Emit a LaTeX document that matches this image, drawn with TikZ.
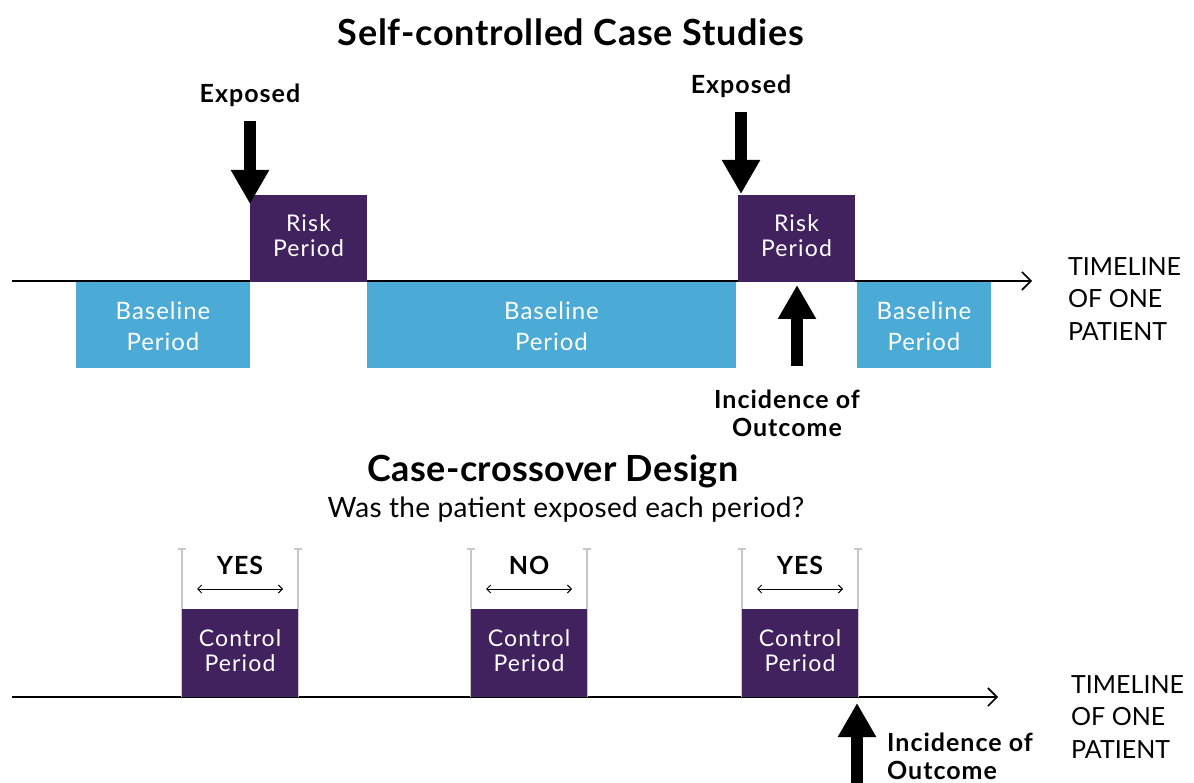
\documentclass[tikz,border=0pt]{standalone}
\usepackage{fontspec}
\setmainfont{Lato}
\usetikzlibrary{arrows.meta}
\definecolor{riskpurple}{HTML}{42215F}
\definecolor{baseblue}{HTML}{4BAAD6}
\definecolor{guidegray}{HTML}{C8C8C8}
% font helpers: size, leading, letter spacing
\newcommand{\boxfont}[3]{\fontsize{#1}{#2}\selectfont\addfontfeatures{LetterSpace=#3}}
\newcommand{\heavyfont}[3]{\fontsize{#1}{#2}\bfseries\selectfont\addfontfeatures{LetterSpace=#3}}
\tikzset{
  basebox/.style={fill=baseblue, inner sep=0pt, minimum height=86pt},
  purplebox/.style={fill=riskpurple, inner sep=0pt},
  basetext/.style={text=white, inner sep=0pt, align=center, font=\boxfont{24}{31}{4}},
  risktext/.style={text=white, inner sep=0pt, align=center, font=\boxfont{23}{25}{5}},
  boldlabel/.style={inner sep=0pt, align=center, font=\heavyfont{25}{28}{4}},
  timelabel/.style={inner sep=0pt, align=left, anchor=north west,
    font=\boxfont{25}{32.5}{0}},
  timeline/.style={line width=1.6pt, -{Straight Barb[length=9pt,width=18pt,line width=1.6pt]}},
  fatarrow/.style={line width=12pt, -{Triangle[width=36pt,length=34pt]}},
  guide/.style={draw=guidegray, line width=1.8pt},
  span/.style={line width=0.9pt, {Straight Barb[length=4pt,width=8pt]}-{Straight Barb[length=4pt,width=8pt]}}
}
\begin{document}
\begin{tikzpicture}[x=1pt,y=-1pt]
\useasboundingbox[fill=white] (0,0) rectangle (1194,783);

% ---------- Self-controlled case studies ----------
\node[inner sep=0pt, font=\heavyfont{36}{40}{2}] (title1) at (571,32) {Self-controlled Case Studies};

\coordinate (tl1start) at (12,281);
\coordinate (tl1end) at (1032,281);
\draw[timeline] (tl1start) -- (tl1end);

% baseline periods
\foreach \cx/\w/\name in {163/174/b1, 551.5/369/b2, 924/134/b3} {
  \node[basebox, minimum width=\w pt] (\name) at (\cx,325) {};
  \node[basetext] (\name txt) at ([yshift=-1.5pt]\name.center) {Baseline\\Period};
}
% risk periods
\foreach \cx/\name in {308.5/r1, 796.5/r2} {
  \node[purplebox, minimum width=117pt, minimum height=87pt] (\name) at (\cx,238.5) {};
  \node[risktext] (\name txt) at ([yshift=2.5pt]\name.center) {Risk\\Period};
}

\node[boldlabel] (ex1) at (250,95) {Exposed};
\node[boldlabel] (ex2) at (741,86) {Exposed};
\coordinate (ex1from) at (250,121);
\coordinate (ex1to) at (250,204);
\coordinate (ex2from) at (741,112);
\coordinate (ex2to) at (741,194);
\draw[fatarrow] (ex1from) -- (ex1to);
\draw[fatarrow] (ex2from) -- (ex2to);

\coordinate (inc1from) at (797,366);
\coordinate (inc1to) at (797,285);
\draw[fatarrow] (inc1from) -- (inc1to);
\node[boldlabel] (inc1) at (787,413) {Incidence of\\Outcome};

\node[timelabel] (tp1) at (1068,257) {TIMELINE\\OF ONE\\PATIENT};

% ---------- Case-crossover design ----------
\node[inner sep=0pt, font=\heavyfont{36}{40}{1}] (title2) at (553,471) {Case-crossover Design};
\node[inner sep=0pt, font=\boxfont{28}{32}{1}] (question) at (566,510) {Was the patient exposed each period?};

\coordinate (tl2start) at (12,697);
\coordinate (tl2end) at (998,697);
\draw[timeline] (tl2start) -- (tl2end);

\foreach \cx/\name/\ans in {240/c1/YES, 529/c2/NO, 800/c3/YES} {
  \coordinate (\name gl) at (\cx-58,549);
  \coordinate (\name gr) at (\cx+58,549);
  \draw[guide] (\name gl) -- ++(0,148);
  \draw[guide] (\name gr) -- ++(0,148);
  \draw[guide] ([xshift=-4pt]\name gl) -- ([xshift=4pt]\name gl);
  \draw[guide] ([xshift=-4pt]\name gr) -- ([xshift=4pt]\name gr);
  \node[purplebox, minimum width=116pt, minimum height=88pt] (\name) at (\cx,653) {};
  \node[risktext] (\name txt) at ([yshift=2.5pt]\name.center) {Control\\Period};
  \node[boldlabel] (\name ans) at (\cx,565) {\ans};
  \coordinate (\name sl) at (\cx-43,589);
  \coordinate (\name sr) at (\cx+43,589);
  \draw[span] (\name sl) -- (\name sr);
}

\coordinate (inc2from) at (857,783);
\coordinate (inc2to) at (857,703);
\draw[fatarrow] (inc2from) -- (inc2to);
\node[boldlabel, align=left, anchor=north west] (inc2) at (887,733) {Incidence of\\Outcome};

\node[timelabel] (tp2) at (1071,675) {TIMELINE\\OF ONE\\PATIENT};
\end{tikzpicture}
\end{document}
